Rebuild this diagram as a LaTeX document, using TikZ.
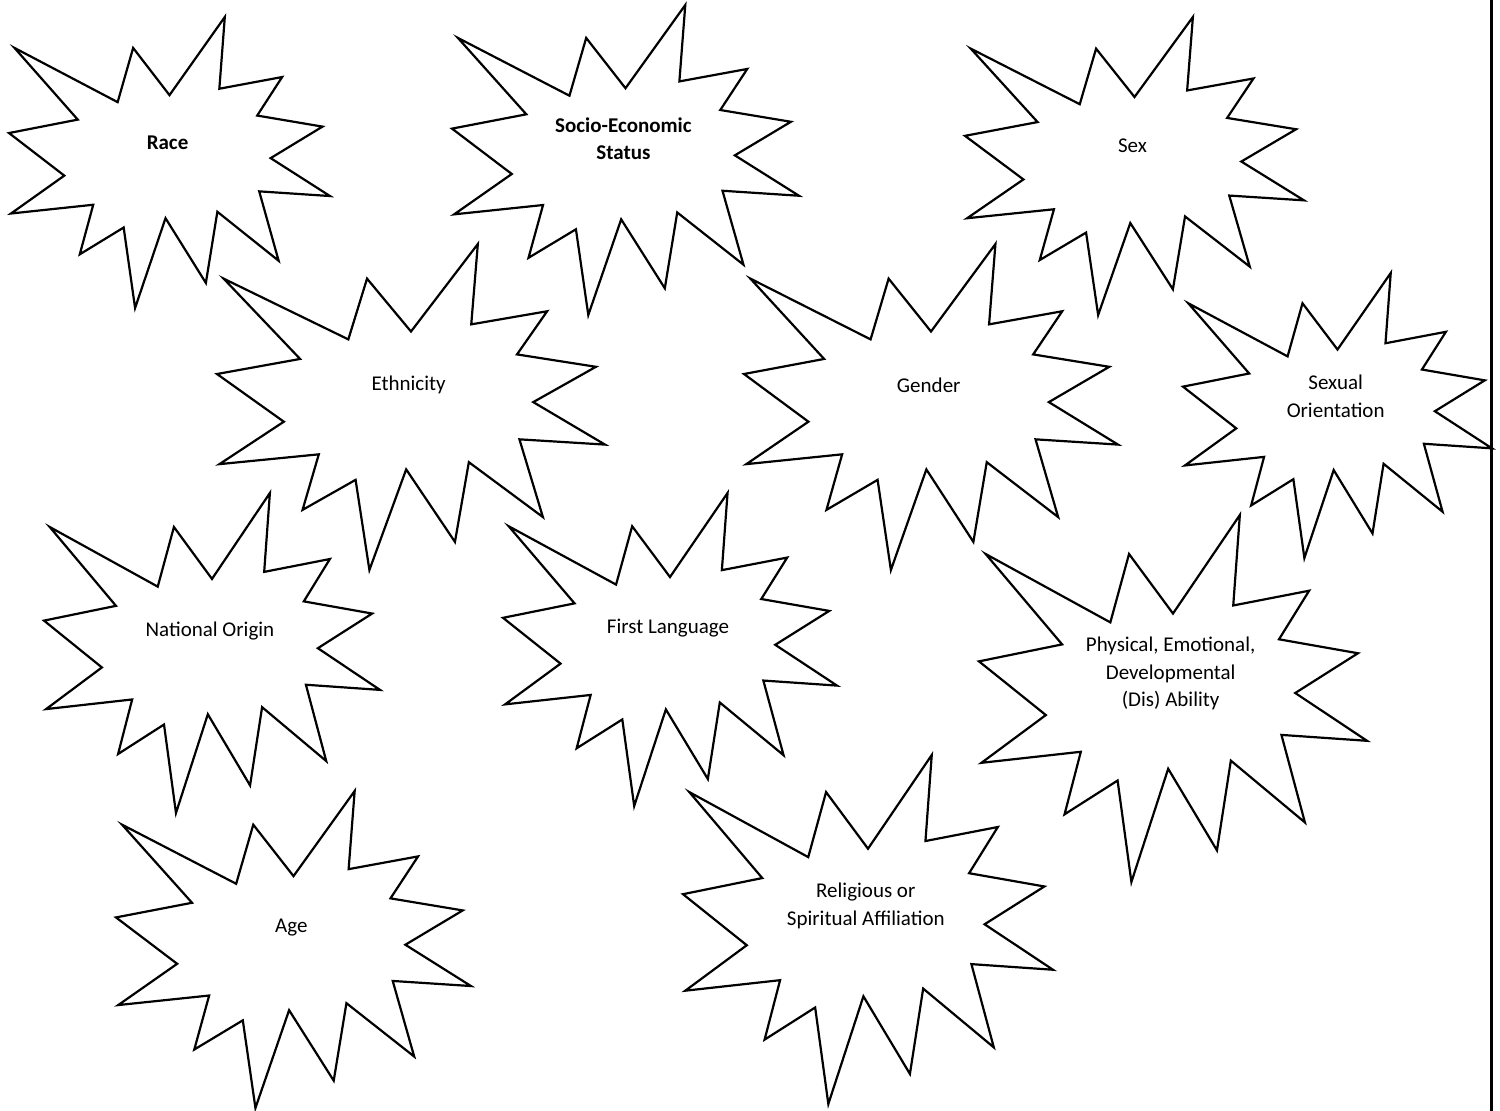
\documentclass[tikz,border=0pt]{standalone}
\usepackage{fontspec}
\setmainfont{Carlito}
\tikzset{
  sealline/.style={draw=black, fill=white, line width=2.2pt, line join=miter},
  seallabel/.style={align=center, font=\fontsize{21}{27.5}\selectfont, inner sep=0pt},
  edgeline/.style={draw=black, line width=2.2pt}
}
\newcommand\explosion[6]{%
  \begin{scope}[shift={(#2,#3)},xscale=#4/1000,yscale=#5/1000]
    \draw[sealline] (500,268.5) -- (672.3,0) -- (655.3,246.5) -- (850.9,206.3)
      -- (773.2,338.7) -- (976.7,376.7) -- (815.1,485.0) -- (1000,615.3)
      -- (779.5,599.2) -- (840.0,837.7) -- (649.1,669.3) -- (613.3,913.8)
      -- (487.6,691.4) -- (392.8,1000) -- (357.2,723.5) -- (220.5,815.6)
      -- (262.4,645.2) -- (6.25,675.3) -- (172.3,545.1) -- (0,398.8)
      -- (214.2,352.6) -- (17.1,106.25) -- (338.5,292.6) -- (386.7,106.25) -- cycle;
    \node[seallabel] (#1) at (494,432) {#6};
  \end{scope}}
\begin{document}
\begin{tikzpicture}[x=1pt,y=-1pt]
\useasboundingbox (0,0) rectangle (1500,1111);
\explosion{race}{9}{17}{321}{291}{\textbf{Race}}
\explosion{ses}{452}{5}{347}{310}{\textbf{Socio-Economic}\\\textbf{Status}}
\explosion{sex}{965}{17}{339}{298}{Sex}
\explosion{ethnicity}{217}{244}{388}{326}{Ethnicity}
\explosion{gender}{744}{244}{374}{326}{Gender}
\explosion{sexor}{1183}{273}{309}{285}{Sexual\\Orientation}
\explosion{natorigin}{44}{493}{336}{320}{National Origin}
\explosion{firstlang}{503}{493}{334}{313}{First Language}
\explosion{ability}{979}{515}{388}{367}{Physical, Emotional,\\Developmental\\(Dis) Ability}
\explosion{age}{116}{791}{355}{317}{Age}
\explosion{religion}{683}{755}{370}{349}{Religious or\\Spiritual Affiliation}
\coordinate (vtop) at (1491.5,0);
\coordinate (vbot) at (1491.5,1111);
\draw[edgeline] (vtop) -- (vbot);
\end{tikzpicture}
\end{document}
